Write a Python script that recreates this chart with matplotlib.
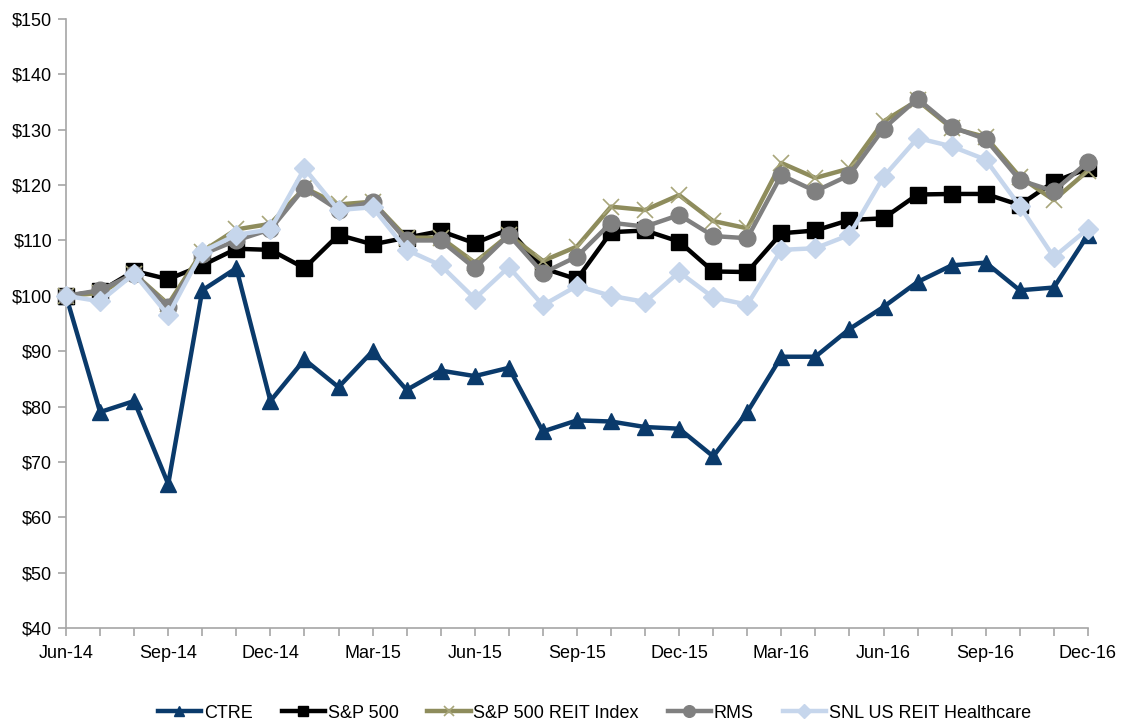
import matplotlib
matplotlib.use("Agg")
import matplotlib.pyplot as plt
from matplotlib import font_manager

months = ["Jun-14", "Jul-14", "Aug-14", "Sep-14", "Oct-14", "Nov-14", "Dec-14",
          "Jan-15", "Feb-15", "Mar-15", "Apr-15", "May-15", "Jun-15", "Jul-15",
          "Aug-15", "Sep-15", "Oct-15", "Nov-15", "Dec-15", "Jan-16", "Feb-16",
          "Mar-16", "Apr-16", "May-16", "Jun-16", "Jul-16", "Aug-16", "Sep-16",
          "Oct-16", "Nov-16", "Dec-16"]

ctre = [100, 79, 81, 66, 101, 105, 81, 88.5, 83.5, 90, 83, 86.5, 85.5, 87,
        75.5, 77.5, 77.3, 76.3, 76, 71, 79, 89, 89, 94, 98, 102.5, 105.5, 106,
        101, 101.5, 111]
sp500 = [100, 100.8, 104.5, 103, 105.5, 108.5, 108.3, 105, 111, 109.3, 110.5,
         111.7, 109.5, 112, 105, 103, 111.5, 111.8, 109.8, 104.4, 104.3, 111.3,
         111.8, 113.7, 114, 118.3, 118.4, 118.4, 116.4, 120.6, 123]
sp_reit = [100, 100.5, 104, 98.5, 108, 112, 113, 119.5, 116.5, 117, 110.5,
           110.5, 106, 111, 106.3, 108.9, 116.1, 115.5, 118.2, 113.5, 112.2,
           124, 121.3, 123, 131.5, 135.3, 130.3, 128.7, 121.5, 117.3, 122.6]
rms = [100, 101, 104, 98, 107.5, 110, 112, 119.5, 115.5, 117, 110, 110, 105,
       111, 104.1, 107.1, 113.2, 112.5, 114.6, 110.8, 110.4, 121.8, 118.9,
       121.8, 130.2, 135.6, 130.5, 128.3, 120.9, 118.9, 124.2]
snl = [100, 99, 104, 96.5, 108, 111, 112, 123, 115.5, 116, 108.3, 105.5, 99.5,
       105.2, 98.3, 101.8, 100, 98.9, 104.3, 99.7, 98.4, 108.3, 108.6, 111,
       121.5, 128.5, 127, 124.6, 116.2, 107, 112.1]

series_names = ["CTRE", "S&P 500", "S&P 500 REIT Index", "RMS", "SNL US REIT Healthcare"]
y_ticks = [40, 50, 60, 70, 80, 90, 100, 110, 120, 130, 140, 150]

fams = [f.name for f in font_manager.fontManager.ttflist]
fam = "Liberation Sans Narrow" if "Liberation Sans Narrow" in fams else "Liberation Sans"
plt.rcParams['font.family'] = [fam, 'DejaVu Sans']

fig = plt.figure(figsize=(11.25, 7.23), dpi=100)
ax = fig.add_axes([0.0587, 0.1314, 0.9083, 0.8423])

x = list(range(len(months)))
styles = [
    dict(color="#0A3A6B", marker="^", ms=11, lw=3.2, mec="#0A3A6B"),
    dict(color="#000000", marker="s", ms=11, lw=3.2, mec="#000000"),
    dict(color="#8E8C5C", marker="x", ms=11, lw=3.2, mew=1.2, mec="#A8A67A"),
    dict(color="#808080", marker="o", ms=12, lw=3.2, mec="#808080"),
    dict(color="#C6D6EC", marker="D", ms=10, lw=3.2, mec="#C6D6EC"),
]
data = [ctre, sp500, sp_reit, rms, snl]
for i, (vals, name, st) in enumerate(zip(data, series_names, styles)):
    ax.plot(x, vals, label=name, zorder=3 + i, clip_on=False, **st)

ax.set_xlim(0, len(months) - 1)
ax.set_ylim(40, 150)
ax.set_yticks(y_ticks)
ax.set_yticklabels([f"${v}" for v in y_ticks], fontsize=13)
ax.set_xticks(x)
ax.set_xticklabels([m if i % 3 == 0 else "" for i, m in enumerate(months)], fontsize=13)
for s in ["top", "right"]:
    ax.spines[s].set_visible(False)
for s in ["left", "bottom"]:
    ax.spines[s].set_color("#A6A6A6")
    ax.spines[s].set_linewidth(1.2)
ax.tick_params(axis="both", colors="#A6A6A6", labelcolor="black", length=6, width=1.2)
ax.tick_params(axis="y", pad=4)
ax.tick_params(axis="x", pad=6)

ax.legend(loc="center", bbox_to_anchor=(0.517, -0.14), ncol=5, frameon=False,
          fontsize=13, handlelength=2.4, handletextpad=0.15, columnspacing=1.6,
          markerscale=0.7)

fig.savefig("out.png", dpi=100, facecolor="white")
